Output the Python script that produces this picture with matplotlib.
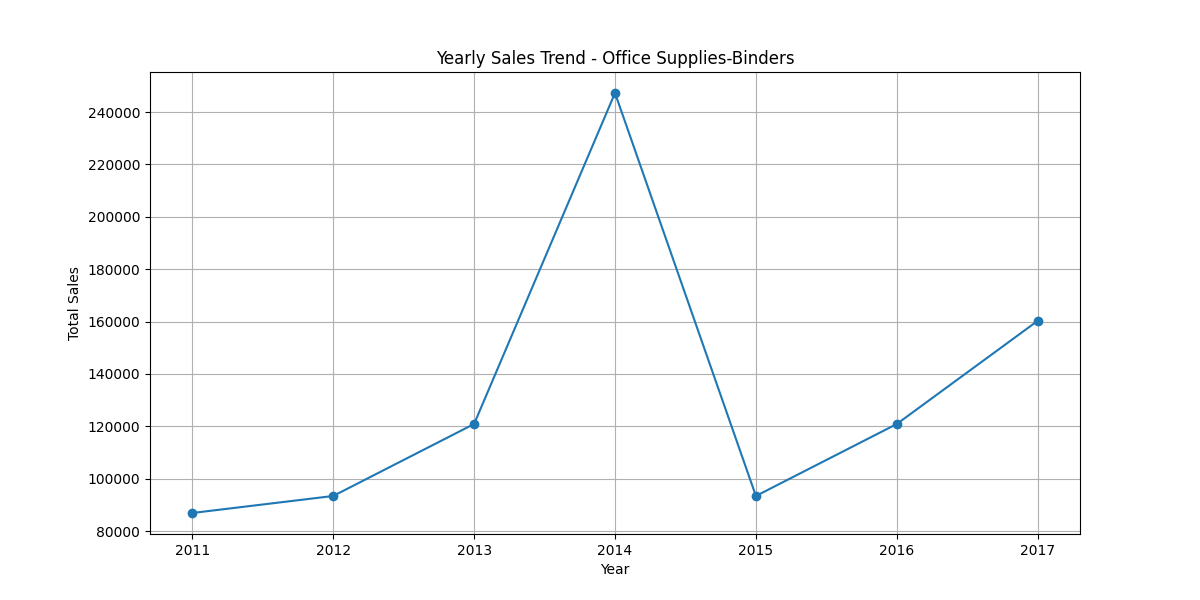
import matplotlib
matplotlib.use('Agg')
import matplotlib.pyplot as plt

# yearly totals
years = [2011, 2012, 2013, 2014, 2015, 2016, 2017]
total_sales = [86900, 93400, 120900, 247300, 93400, 120900, 160300]
category = 'Office Supplies-Binders'

fig = plt.figure(figsize=(12, 6))
plt.plot(years, total_sales, marker='o')
plt.title(f'Yearly Sales Trend - {category}')
plt.xlabel('Year')
plt.ylabel('Total Sales')
plt.grid(True)
plt.savefig('out.png', dpi=100)
